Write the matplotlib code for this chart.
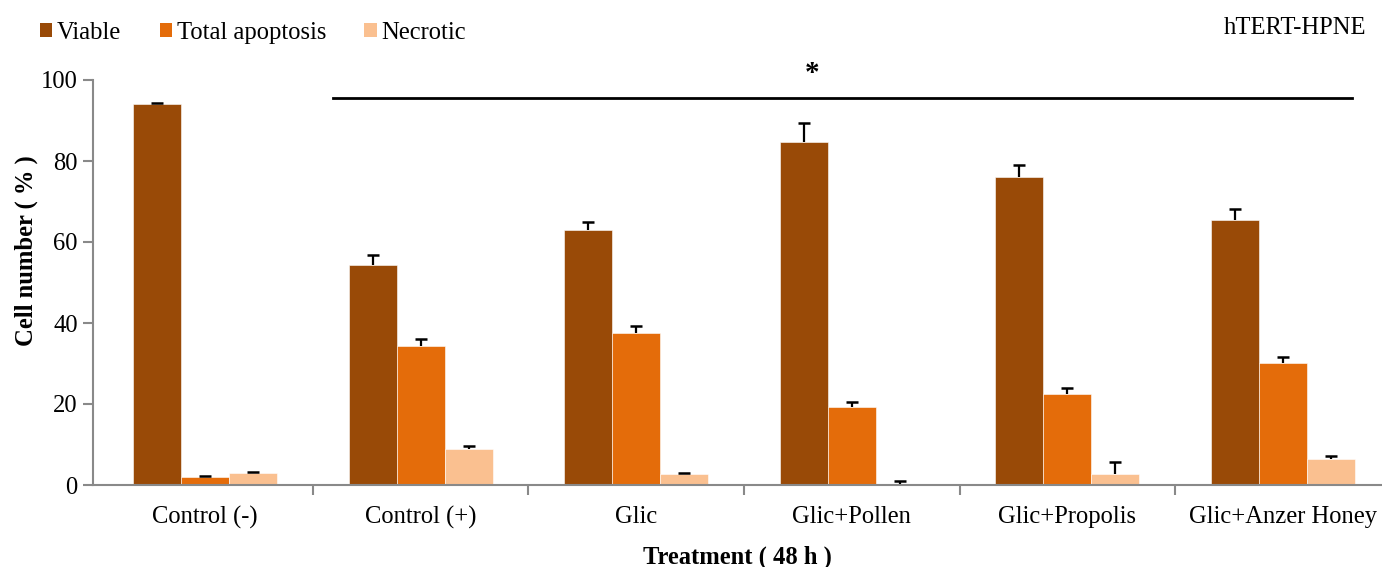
import matplotlib
matplotlib.use("Agg")
import matplotlib.pyplot as plt
from matplotlib.patches import Patch
import numpy as np

categories = ["Control (-)", "Control (+)", "Glic", "Glic+Pollen", "Glic+Propolis", "Glic+Anzer Honey"]
series_names = ["Viable", "Total apoptosis", "Necrotic"]
viable = [94.1, 54.4, 63.0, 84.7, 76.0, 65.4]
viable_err = [0.3, 2.4, 2.0, 4.7, 3.0, 2.7]
apoptosis = [1.9, 34.3, 37.5, 19.3, 22.5, 30.1]
apoptosis_err = [0.3, 1.7, 1.7, 1.3, 1.4, 1.5]
necrotic = [3.0, 8.9, 2.7, 0.3, 2.7, 6.5]
necrotic_err = [0.3, 0.7, 0.3, 0.7, 3.0, 0.6]
colors = ["#994A07", "#E46C0A", "#FAC090"]

plt.rcParams['font.family'] = ['Liberation Serif', 'DejaVu Serif']
FS = 17.7

W, H = 1382, 567
fig = plt.figure(figsize=(W / 100, H / 100), dpi=100)
left_px, bottom_px, top_px = 93, 485, 80
xmin, xmax = -0.5195, 5.5
spacing = 215.6
ax_w_px = (xmax - xmin) * spacing
ax = fig.add_axes([left_px / W, (H - bottom_px) / H,
                   ax_w_px / W, (bottom_px - top_px) / H])

x = np.arange(len(categories))
bw = 0.2226
data = [viable, apoptosis, necrotic]
errs = [viable_err, apoptosis_err, necrotic_err]
for i, (vals, er, c) in enumerate(zip(data, errs, colors)):
    pos = x + (i - 1) * bw
    vals = np.array(vals)
    er = np.array(er)
    ax.bar(pos, vals, width=bw, color=c, edgecolor='white', linewidth=0.4, zorder=2)
    ax.errorbar(pos, vals, yerr=[np.zeros(len(er)), er], fmt='none', ecolor='black',
                elinewidth=1.6, capsize=0, zorder=3)
    ax.plot(pos, vals + er, linestyle='none', marker='_', markersize=8,
            markeredgewidth=1.8, color='black', zorder=3)

ax.set_xlim(xmin, xmax)
ax.set_ylim(0, 100)
ax.set_yticks([0, 20, 40, 60, 80, 100])
ax.set_xticks(x)
ax.set_xticklabels(categories, fontsize=FS)
ax.set_xticks(np.arange(0.5, len(categories) - 0.5 + 1e-9, 1.0), minor=True)
ax.tick_params(axis='x', which='major', length=0, pad=15)
ax.tick_params(axis='x', which='minor', length=7, width=1.5, color='#898989', direction='out')
ax.tick_params(axis='y', length=7, width=1.5, color='#898989', direction='out', pad=4, labelsize=FS)

for s in ['top', 'right']:
    ax.spines[s].set_visible(False)
for s in ['left', 'bottom']:
    ax.spines[s].set_color('#898989')
    ax.spines[s].set_linewidth(1.5)

ax.set_ylabel('Cell number ( % )', fontsize=FS, fontweight='bold')
ax.yaxis.set_label_coords((38 - left_px) / ax_w_px, (485 - 251) / 405)
fig.text(737 / W, 1 - 557 / H, 'Treatment ( 48 h )', fontsize=FS, fontweight='bold',
         ha='center', va='center')

# significance bar
ax.plot([0.594, 5.32], [95.6, 95.6], color='black', lw=2, clip_on=False, zorder=4)
ax.text(2.815, 101.5, '*', fontsize=21, fontweight='bold', ha='center', va='center')

fig.text(1366 / W, 1 - 28 / H, 'hTERT-HPNE', fontsize=FS, ha='right', va='center')

handles = [Patch(facecolor=c, edgecolor='none') for c in colors]
fig.legend(handles, series_names, loc='center left', bbox_to_anchor=(40 / W, 1 - 33 / H),
           ncol=3, frameon=False, fontsize=FS, handlelength=0.5, handleheight=0.5,
           handletextpad=0.2, columnspacing=1.55, borderaxespad=0, borderpad=0)

fig.savefig('out.png', dpi=100)
